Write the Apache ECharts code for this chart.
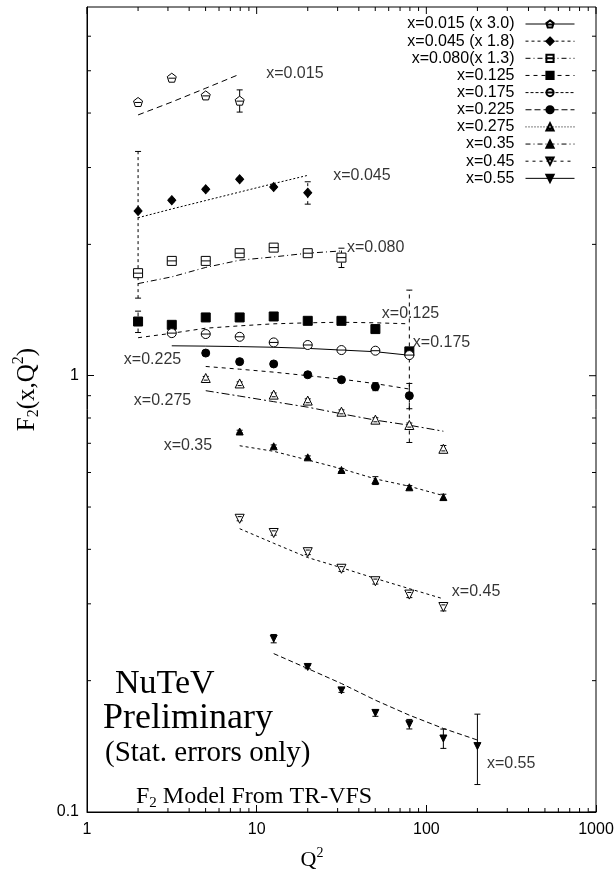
<!DOCTYPE html>
<html><head><meta charset="utf-8">
<script src="https://cdn.jsdelivr.net/npm/echarts@6/dist/echarts.min.js"></script>
<style>html,body{margin:0;padding:0;background:#fff}#c{width:614px;height:874px}</style>
</head><body><div id="c"></div>
<script>
// ---------------- DATA ----------------
const names = ['x=0.015 (x 3.0)','x=0.045 (x 1.8)','x=0.080(x 1.3)','x=0.125','x=0.175','x=0.225','x=0.275','x=0.35','x=0.45','x=0.55'];
const modelNames = ['x=0.015','x=0.045','x=0.080','x=0.125','x=0.175','x=0.225','x=0.275','x=0.35','x=0.45','x=0.55'];

const q2_015 = [2.0, 3.16, 5.01, 7.94];
const f2_015 = [4.24, 4.82, 4.39, 4.27];
const err_015 = [0.04, 0.04, 0.04, 0.25];
const mod_015 = [3.96, 4.24, 4.56, 4.91];

const q2_045 = [2.0, 3.16, 5.01, 7.94, 12.6, 20.0];
const f2_045 = [2.386, 2.525, 2.674, 2.819, 2.706, 2.628];
const err_045 = [0.88, 0.02, 0.02, 0.02, 0.02, 0.155];
const mod_045 = [2.302, 2.411, 2.521, 2.636, 2.757, 2.879];

const q2_080 = [2.0, 3.16, 5.01, 7.94, 12.6, 20.0, 31.6];
const f2_080 = [1.718, 1.833, 1.833, 1.909, 1.966, 1.909, 1.865];
const err_080 = [0.03, 0.02, 0.02, 0.02, 0.02, 0.02, 0.095];
const mod_080 = [1.626, 1.685, 1.771, 1.840, 1.872, 1.909, 1.932];

const q2_125 = [2.0, 3.16, 5.01, 7.94, 12.6, 20.0, 31.6, 50.1, 79.4];
const f2_125 = [1.331, 1.308, 1.360, 1.360, 1.367, 1.336, 1.336, 1.279, 1.137];
const err_125 = [0.075, 0.01, 0.01, 0.01, 0.01, 0.01, 0.01, 0.02, 0.434];
const mod_125 = [1.222, 1.251, 1.285, 1.301, 1.315, 1.322, 1.326, 1.322, 1.315];

const q2_175 = [3.16, 5.01, 7.94, 12.6, 20.0, 31.6, 50.1, 79.4];
const f2_175 = [1.252, 1.246, 1.228, 1.192, 1.176, 1.145, 1.141, 1.115];
const err_175 = [0.01, 0.01, 0.01, 0.01, 0.01, 0.01, 0.01, 0.01];
const mod_175 = [1.171, 1.169, 1.166, 1.162, 1.155, 1.145, 1.135, 1.114];

const q2_225 = [5.01, 7.94, 12.6, 20.0, 31.6, 50.1, 79.4];
const f2_225 = [1.127, 1.077, 1.064, 1.005, 0.979, 0.944, 0.900];
const err_225 = [0.01, 0.01, 0.01, 0.01, 0.01, 0.02, 0.06];
const mod_225 = [1.050, 1.035, 1.019, 1.000, 0.982, 0.959, 0.932];

const q2_275 = [5.01, 7.94, 12.6, 20.0, 31.6, 50.1, 79.4, 126];
const f2_275 = [0.988, 0.960, 0.905, 0.877, 0.827, 0.793, 0.771, 0.680];
const err_275 = [0.008, 0.008, 0.008, 0.008, 0.008, 0.008, 0.008, 0.012];
const mod_275 = [0.924, 0.898, 0.872, 0.847, 0.818, 0.791, 0.770, 0.746];

const q2_35 = [7.94, 12.6, 20.0, 31.6, 50.1, 79.4, 126];
const f2_35 = [0.745, 0.689, 0.650, 0.608, 0.575, 0.555, 0.527];
const err_35 = [0.005, 0.005, 0.005, 0.005, 0.012, 0.005, 0.008];
const mod_35 = [0.691, 0.671, 0.641, 0.612, 0.580, 0.558, 0.531];

const q2_45 = [7.94, 12.6, 20.0, 31.6, 50.1, 79.4, 126];
const f2_45 = [0.470, 0.436, 0.394, 0.361, 0.338, 0.315, 0.295];
const err_45 = [0.005, 0.005, 0.005, 0.005, 0.005, 0.005, 0.006];
const mod_45 = [0.446, 0.413, 0.383, 0.363, 0.343, 0.325, 0.308];

const q2_55 = [12.6, 20.0, 31.6, 50.1, 79.4, 126, 200];
const f2_55 = [0.2497, 0.215, 0.190, 0.1687, 0.159, 0.1474, 0.1416];
const err_55 = [0.0055, 0.002, 0.002, 0.003, 0.004, 0.0075, 0.026];
const mod_55 = [0.2307, 0.2132, 0.197, 0.1804, 0.1667, 0.1554, 0.1462];

const xMajorTicks = [1, 10, 100, 1000];
const xMinorTicks = [2,3,4,5,6,7,8,9,20,30,40,50,60,70,80,90,200,300,400,500,600,700,800,900];
const yMajorTicks = [0.1, 1];
const yMinorTicks = [0.2,0.3,0.4,0.5,0.6,0.7,0.8,0.9,2,3,4,5,6];
const X_MIN = 1, X_MAX = 1000, Y_MIN = 0.1, Y_MAX = 7;

// ---------------- STYLES ----------------
const P = {
  pent: 'path://M0,-10 L9.5,-3.1 L5.9,8.1 L-5.9,8.1 L-9.5,-3.1 Z M-7,0 L7,0',
  sqO: 'path://M-5,-5 L5,-5 L5,5 L-5,5 Z M-5,0 L5,0',
  cirO: 'path://M-5,0 A5,5 0 1,0 5,0 A5,5 0 1,0 -5,0 Z M-5,0 L5,0',
  triO: 'path://M0,-5 L5.5,4.5 L-5.5,4.5 Z M-2.5,2 L2.5,2',
  triDO: 'path://M-5.5,-4.5 L5.5,-4.5 L0,5 Z M-2.5,-2 L2.5,-2'
};
const groups = [
  {q:q2_015,f:f2_015,e:err_015,m:mod_015,sym:P.pent,size:9,open:true,rot:0,leg:'solid',mdash:[6,4],lab:'end',off:[21,-1]},
  {q:q2_045,f:f2_045,e:err_045,m:mod_045,sym:'diamond',size:[8,9],open:false,rot:0,leg:[3,3],mdash:[2,2],lab:'end',off:[20,0]},
  {q:q2_080,f:f2_080,e:err_080,m:mod_080,sym:P.sqO,size:9,open:true,rot:0,leg:[5,3,1,3],mdash:[6,3,1,3],lab:'end',off:[0,-3]},
  {q:q2_125,f:f2_125,e:err_125,m:mod_125,sym:'rect',size:9,open:false,rot:0,leg:[4,4],mdash:[4,4],lab:'end',off:[-33,-10]},
  {q:q2_175,f:f2_175,e:err_175,m:mod_175,sym:P.cirO,size:9,open:true,rot:0,leg:[3,2],mdash:'solid',lab:'end',off:[-2,-13]},
  {q:q2_225,f:f2_225,e:err_225,m:mod_225,sym:'circle',size:8,open:false,rot:0,leg:[6,3],mdash:[4,4],lab:'start',off:[-19,-7]},
  {q:q2_275,f:f2_275,e:err_275,m:mod_275,sym:P.triO,size:9,open:true,rot:0,leg:[1,2],mdash:[8,3,2,3],lab:'start',off:[-9,10]},
  {q:q2_35,f:f2_35,e:err_35,m:mod_35,sym:'triangle',size:7,open:false,rot:0,leg:[5,3,1,3],mdash:[3,3],lab:'start',off:[-22,0]},
  {q:q2_45,f:f2_45,e:err_45,m:mod_45,sym:P.triDO,size:9,open:true,rot:0,leg:[3,4],mdash:[3,3],lab:'end',off:[3,-7]},
  {q:q2_55,f:f2_55,e:err_55,m:mod_55,sym:'triangle',size:7,open:false,rot:180,leg:'solid',mdash:[5,3],lab:'end',off:[4,24]}
];

const FONT = 'Liberation Sans, Arial, Helvetica, sans-serif';
const SERIF = 'Liberation Serif, Times New Roman, serif';

const series = [];
const legendData = [];
groups.forEach((g, i) => {
  const pts = g.q.map((q, k) => [q, g.f[k]]);
  const errs = g.q.map((q, k) => [q, g.f[k] - g.e[k], g.f[k] + g.e[k]]);
  const model = g.q.map((q, k) => [q, g.m[k]]);
  const dashArr = g.leg === 'solid' ? null : g.leg;
  series.push({
    name: 'model ' + modelNames[i], type: 'line', data: model, showSymbol: false, symbol: 'none',
    lineStyle: {color: '#000', width: 1, type: g.mdash}, z: 2, silent: true, animation: false
  });
  series.push({
    name: 'err ' + names[i], type: 'custom', data: errs, z: 3, silent: true, animation: false,
    encode: {x: 0, y: [1, 2]},
    renderItem: (params, api) => {
      const x = api.value(0);
      const a = api.coord([x, api.value(1)]);
      const b = api.coord([x, api.value(2)]);
      const st = {stroke: '#000', lineWidth: 1, lineDash: dashArr};
      return {type: 'group', children: [
        {type: 'line', shape: {x1: a[0], y1: a[1], x2: b[0], y2: b[1]}, style: st},
        {type: 'line', shape: {x1: a[0]-3, y1: a[1], x2: a[0]+3, y2: a[1]}, style: {stroke:'#000', lineWidth:1}},
        {type: 'line', shape: {x1: b[0]-3, y1: b[1], x2: b[0]+3, y2: b[1]}, style: {stroke:'#000', lineWidth:1}}
      ]};
    }
  });
  series.push({
    name: names[i], type: 'line', data: pts, symbol: g.sym, symbolSize: g.size, symbolRotate: g.rot,
    showSymbol: true, showAllSymbol: true,
    lineStyle: {opacity: 0, width: 0, color: '#000'},
    itemStyle: {color: g.open ? '#fff' : '#000', borderColor: '#000', borderWidth: 1},
    z: 4, animation: false, emphasis: {disabled: true}
  });
  legendData.push({name: names[i], lineStyle: {color: '#000', width: 1, opacity: 1, type: g.leg}});
  const idx = g.lab === 'end' ? model.length - 1 : 0;
  series.push({
    name: 'label ' + modelNames[i], type: 'scatter', symbolSize: 1, silent: true, animation: false, z: 5,
    itemStyle: {color: 'rgba(0,0,0,0)'},
    data: [{value: model[idx], label: {show: true, formatter: modelNames[i],
      position: g.lab === 'end' ? 'right' : 'left', distance: 5, offset: g.off,
      color: '#000', fontSize: 16, fontFamily: FONT}}]
  });
});

function tickSeries(vals, isX, len, sides) {
  return {
    type: 'custom', silent: true, animation: false, z: 6, clip: false,
    data: vals.map(v => isX ? [v, Y_MIN] : [X_MIN, v]),
    encode: {x: 0, y: 1},
    renderItem: (params, api) => {
      const v = api.value(isX ? 0 : 1);
      const ch = [];
      const st = {stroke: '#000', lineWidth: 1};
      if (isX) {
        const b = api.coord([v, Y_MIN]), t = api.coord([v, Y_MAX]);
        if (sides.includes('b')) ch.push({type:'line', shape:{x1:b[0],y1:b[1],x2:b[0],y2:b[1]-len}, style: st});
        if (sides.includes('t')) ch.push({type:'line', shape:{x1:t[0],y1:t[1],x2:t[0],y2:t[1]+len}, style: st});
      } else {
        const l = api.coord([X_MIN, v]), r = api.coord([X_MAX, v]);
        if (sides.includes('l')) ch.push({type:'line', shape:{x1:l[0],y1:l[1],x2:l[0]+len,y2:l[1]}, style: st});
        if (sides.includes('r')) ch.push({type:'line', shape:{x1:r[0],y1:r[1],x2:r[0]-len,y2:r[1]}, style: st});
      }
      return {type: 'group', children: ch};
    }
  };
}
series.push(tickSeries(xMinorTicks, true, 4, 'bt'));
series.push(tickSeries(xMajorTicks, true, 7, 't'));
series.push(tickSeries(yMinorTicks, false, 4, 'lr'));
series.push(tickSeries(yMajorTicks, false, 7, 'r'));

const chart = echarts.init(document.getElementById('c'), null, {renderer: 'canvas'});
chart.setOption({
  animation: false,
  backgroundColor: '#fff',
  textStyle: {fontFamily: FONT, color: '#000'},
  grid: {left: 87, right: 18, top: 7, bottom: 62, show: true, borderColor: '#000', borderWidth: 1, containLabel: false, outerBoundsMode: 'none'},
  legend: {
    data: legendData, orient: 'vertical', right: 39, top: 16, padding: 0,
    align: 'right', itemWidth: 49, itemHeight: 9, itemGap: 1.15,
    selectedMode: false,
    textStyle: {fontSize: 16, lineHeight: 16, color: '#000', fontFamily: FONT, padding: [0, 6, 0, 0]}
  },
  xAxis: {
    type: 'log', logBase: 10, min: X_MIN, max: X_MAX,
    axisLine: {show: true, lineStyle: {color: '#000', width: 1}},
    axisTick: {show: true, inside: true, length: 7, lineStyle: {color: '#000'}},
    splitLine: {show: false},
    axisLabel: {color: '#000', fontSize: 16, fontFamily: FONT, margin: 10, formatter: v => String(v)},
    name: '{q|Q}{s|2}', nameLocation: 'middle', nameGap: 34,
    nameTextStyle: {padding: [0, 59, 0, 0], rich: {
      q: {fontFamily: SERIF, fontSize: 22, color: '#000'},
      s: {fontFamily: SERIF, fontSize: 14, color: '#000', padding: [0, 0, 14, 0]}
    }}
  },
  yAxis: {
    type: 'log', logBase: 10, min: Y_MIN, max: Y_MAX,
    axisLine: {show: true, lineStyle: {color: '#000', width: 1}},
    axisTick: {show: true, inside: true, length: 7, lineStyle: {color: '#000'}},
    splitLine: {show: false},
    axisLabel: {color: '#000', fontSize: 16, fontFamily: FONT, margin: 8, showMaxLabel: false, formatter: v => String(v)},
    name: '{f|F}{b|2}{f|(x,Q}{s|2}{f|)}', nameLocation: 'middle', nameGap: 44, nameRotate: 90,
    nameTextStyle: {padding: [0, 0, 0, 40], rich: {
      f: {fontFamily: SERIF, fontSize: 25, color: '#000'},
      b: {fontFamily: SERIF, fontSize: 16, color: '#000', padding: [14, 0, 0, 0]},
      s: {fontFamily: SERIF, fontSize: 16, color: '#000', padding: [0, 0, 16, 0]}
    }}
  },
  graphic: [
    {type: 'text', x: 115, y: 684, style: {text: 'NuTeV', font: '34px ' + SERIF, fill: '#000', verticalAlign: 'middle'}},
    {type: 'text', x: 103, y: 719, style: {text: 'Preliminary', font: '36px ' + SERIF, fill: '#000', verticalAlign: 'middle'}},
    {type: 'text', x: 105, y: 753, style: {text: '(Stat. errors only)', font: '29px ' + SERIF, fill: '#000', verticalAlign: 'middle'}},
    {type: 'text', x: 136, y: 797, style: {text: '{a|F}{s|2}{a| Model From TR-VFS}', verticalAlign: 'middle', rich: {
      a: {fontFamily: SERIF, fontSize: 24, fill: '#000', color: '#000'},
      s: {fontFamily: SERIF, fontSize: 15, fill: '#000', color: '#000', padding: [12, 0, 0, 0]}
    }}}
  ],
  series: series
});
</script></body></html>
